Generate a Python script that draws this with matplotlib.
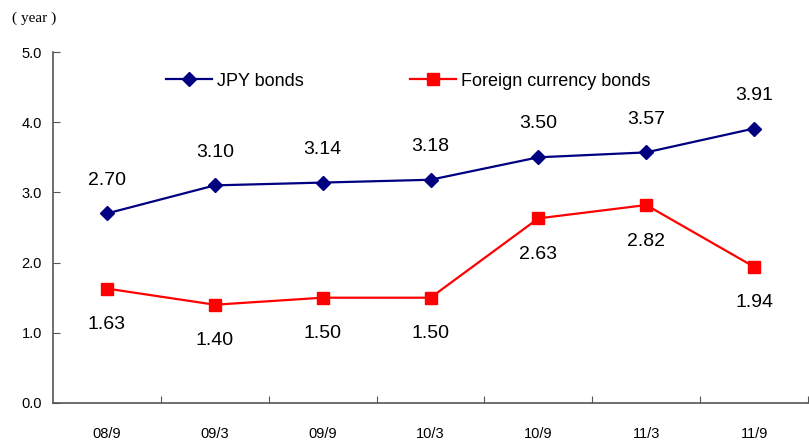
import matplotlib
matplotlib.use("Agg")
import matplotlib.pyplot as plt
from matplotlib.lines import Line2D

periods = ["08/9", "09/3", "09/9", "10/3", "10/9", "11/3", "11/9"]
jpy_bonds = [2.70, 3.10, 3.14, 3.18, 3.50, 3.57, 3.91]
foreign_bonds = [1.63, 1.40, 1.50, 1.50, 2.63, 2.82, 1.94]
y_ticks = [0.0, 1.0, 2.0, 3.0, 4.0, 5.0]

font = "Liberation Sans"
fig = plt.figure(figsize=(8.09, 4.41), dpi=100)
ax = fig.add_axes([53 / 809, 38 / 441, 755 / 809, 351 / 441])

x = list(range(len(periods)))
navy = "#000080"
red = "#ff0000"
ax.plot(x, jpy_bonds, color=navy, lw=1.6, marker="D", ms=7, mfc=navy, mec=navy,
        clip_on=False)
ax.plot(x, foreign_bonds, color=red, lw=1.6, marker="s", ms=8, mfc=red, mec=red,
        clip_on=False)

for xi, v in zip(x, jpy_bonds):
    ax.annotate(f"{v:.2f}", (xi, v), xytext=(0, 24), textcoords="offset points",
                ha="center", va="center", fontsize=14, family=font)
for xi, v in zip(x, foreign_bonds):
    ax.annotate(f"{v:.2f}", (xi, v), xytext=(0, -26), textcoords="offset points",
                ha="center", va="center", fontsize=14, family=font)

ax.set_xlim(-0.5, len(periods) - 0.5)
ax.set_ylim(0, 5)
ax.set_yticks(y_ticks)
ax.set_yticklabels([f"{t:.1f}" for t in y_ticks], family=font, fontsize=10.5)
ax.set_xticks([i + 0.5 for i in x])
ax.set_xticklabels([])
ax.set_xticks(x, minor=True)
ax.set_xticklabels(periods, minor=True, family=font, fontsize=10.5)
ax.tick_params(axis="x", which="major", direction="in", length=5, color="#555555")
ax.tick_params(axis="x", which="minor", length=0, pad=17)
ax.tick_params(axis="y", direction="in", length=5, color="#555555", pad=8)

for side in ("top", "right"):
    ax.spines[side].set_visible(False)
for side in ("left", "bottom"):
    ax.spines[side].set_color("#555555")
    ax.spines[side].set_linewidth(1.2)

# two legend entries placed independently
entries = [
    (Line2D([], [], color=navy, lw=1.6, marker="D", ms=7, mfc=navy, mec=navy),
     "JPY bonds", 166),
    (Line2D([], [], color=red, lw=1.6, marker="s", ms=8, mfc=red, mec=red),
     "Foreign currency bonds", 410),
]
for handle, label, px in entries:
    fig.legend([handle], [label], loc="center left",
               bbox_to_anchor=(px / 809, 1 - 81 / 441), frameon=False,
               prop={"family": font, "size": 13}, handlelength=2.55,
               handletextpad=0.3, borderpad=0, borderaxespad=0)

fig.text(12 / 809, 1 - 18 / 441, "( year )", family="Liberation Serif", fontsize=11,
         va="center", ha="left")

fig.savefig("out.png", dpi=100)
